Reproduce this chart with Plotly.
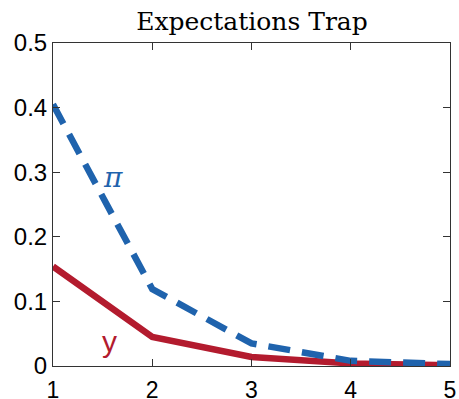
import plotly.graph_objects as go

periods = [1, 2, 3, 4, 5]
pi_vals = [0.405, 0.119, 0.035, 0.008, 0.003]
y_vals = [0.154, 0.045, 0.014, 0.004, 0.001]
y_ticks = [0, 0.1, 0.2, 0.3, 0.4, 0.5]
y_tick_text = ["0", "0.1", "0.2", "0.3", "0.4", "0.5"]
x_ticks = [1, 2, 3, 4, 5]

blue = "#1f63ad"
red = "#b31b2e"

fig = go.Figure()
fig.add_trace(go.Scatter(x=periods, y=y_vals, mode="lines",
                         line=dict(color=red, width=6.5), cliponaxis=False))
fig.add_trace(go.Scatter(x=periods, y=pi_vals, mode="lines",
                         line=dict(color=blue, width=6.5, dash="22px,12px"), cliponaxis=False))

fig.add_annotation(x=1.6, y=0.292, text="<i>π</i>", showarrow=False,
                   font=dict(family="DejaVu Serif", size=28, color=blue))
fig.add_annotation(x=1.57, y=0.038, text="y", showarrow=False,
                   font=dict(family="Liberation Sans", size=30, color=red))

axis_common = dict(showline=True, linecolor="#333333", linewidth=1, mirror="ticks",
                   ticks="inside", ticklen=7, tickcolor="#333333", showgrid=False,
                   zeroline=False, automargin=False)
fig.update_xaxes(range=[1, 5], tickvals=x_ticks, ticklabelstandoff=3,
                 tickfont=dict(family="Liberation Sans", size=23, color="black"), **axis_common)
fig.update_yaxes(range=[0, 0.5], tickvals=y_ticks, ticktext=y_tick_text,
                 tickfont=dict(family="Liberation Sans", size=24, color="black"), **axis_common)

fig.update_layout(
    width=459, height=399,
    margin=dict(l=53, r=9, t=43, b=33),
    plot_bgcolor="white", paper_bgcolor="white",
    showlegend=False,
    title=dict(text="Expectations Trap", x=0.549, xanchor="center", y=0.947, yanchor="middle",
               font=dict(family="DejaVu Serif", size=25, color="black")),
)

fig.write_html("out.html", config={"displayModeBar": False},
               post_script="document.body.style.margin='0px';")
